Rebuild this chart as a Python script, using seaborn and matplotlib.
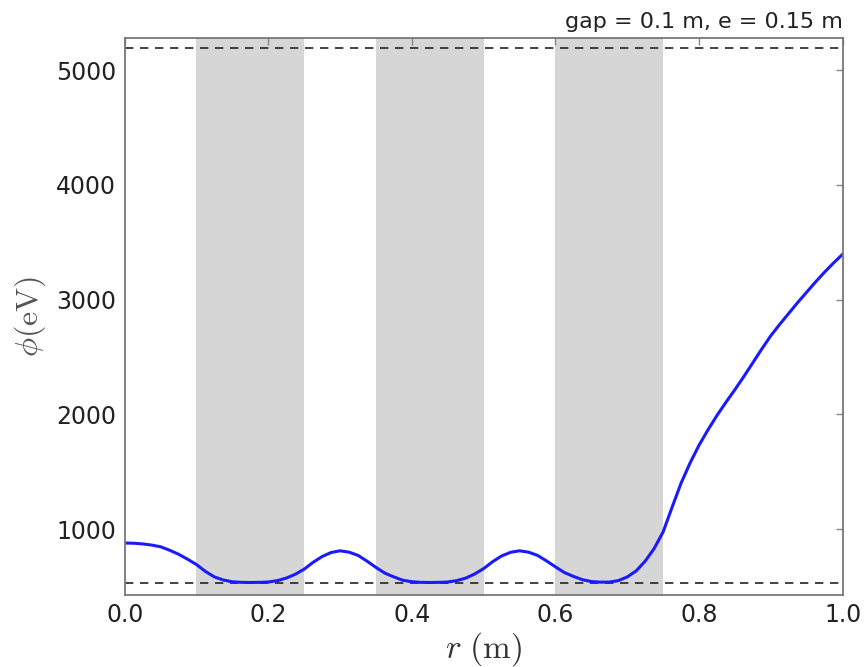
import numpy as np
import pandas as pd
import matplotlib
matplotlib.use('Agg')
import matplotlib.pyplot as plt
import seaborn as sns

# values
r = [0.0, 0.0125, 0.025, 0.0375, 0.05, 0.0625, 0.075, 0.0875, 0.1, 0.1125,
     0.125, 0.1375, 0.15, 0.1625, 0.175, 0.1875, 0.2, 0.2125, 0.225, 0.2375,
     0.25, 0.2625, 0.275, 0.2875, 0.3, 0.3125, 0.325, 0.3375, 0.35, 0.3625,
     0.375, 0.3875, 0.4, 0.4125, 0.425, 0.4375, 0.45, 0.4625, 0.475, 0.4875,
     0.5, 0.5125, 0.525, 0.5375, 0.55, 0.5625, 0.575, 0.5875, 0.6, 0.6125,
     0.625, 0.6375, 0.65, 0.6625, 0.675, 0.6875, 0.7, 0.7125, 0.725, 0.7375,
     0.75, 0.7625, 0.775, 0.7875, 0.8, 0.8125, 0.825, 0.8375, 0.85, 0.8625,
     0.875, 0.8875, 0.9, 0.9125, 0.925, 0.9375, 0.95, 0.9625, 0.975, 0.9875, 1.0]
phi = [878, 876, 870, 860, 845, 815, 780, 737, 690, 630,
       582, 555, 540, 535, 534, 535, 538, 550, 572, 605,
       650, 710, 760, 795, 810, 798, 770, 720, 665, 615,
       582, 553, 540, 535, 534, 535, 538, 550, 572, 608,
       655, 715, 765, 797, 810, 798, 770, 722, 670, 620,
       587, 558, 542, 537, 537, 550, 582, 635, 720, 830,
       975, 1190, 1400, 1575, 1730, 1865, 1990, 2105, 2215, 2330,
       2450, 2570, 2685, 2785, 2880, 2975, 3065, 3155, 3240, 3320, 3395]
phi_min = 527
phi_max = 5190
bands = [(0.1, 0.25), (0.35, 0.5), (0.6, 0.75)]
title = 'gap = 0.1 m, e = 0.15 m'

df = pd.DataFrame({'r': r, 'phi': phi})

sns.set_style('white')
plt.rcParams['font.family'] = ['DejaVu Sans']
plt.rcParams['mathtext.fontset'] = 'cm'

fig, ax = plt.subplots(figsize=(8.66, 6.67), dpi=100)
fig.subplots_adjust(left=0.144, right=0.973, top=0.943, bottom=0.108)

for lo, hi in bands:
    ax.axvspan(lo, hi, color='#d6d6d6', lw=0, zorder=0)

ax.axhline(phi_max, color='#222222', ls='--', lw=1.2, dashes=(5, 4))
ax.axhline(phi_min, color='#222222', ls='--', lw=1.2, dashes=(5, 4))
sns.lineplot(x='r', y='phi', data=df, color='#1a1aff', linewidth=2.2, ax=ax)

ax.set_xlim(0, 1)
ax.set_ylim(425, 5280)
ax.set_xticks([0.0, 0.2, 0.4, 0.6, 0.8, 1.0])
ax.set_yticks([1000, 2000, 3000, 4000, 5000])
ax.tick_params(direction='in', top=True, right=True, length=5, width=1,
               labelsize=17, colors='#888888', labelcolor='#222222', pad=6)
for s in ax.spines.values():
    s.set_color('#777777')
    s.set_linewidth(1.3)

ax.set_xlabel(r'$r\ (\mathrm{m})$', fontsize=24, color='#333333', labelpad=2)
ax.set_ylabel(r'$\phi(\mathrm{eV})$', fontsize=23, color='#555555', labelpad=6)
ax.set_title(title, loc='right', fontsize=16, color='#222222', pad=7)

fig.savefig('out.png', dpi=100)
